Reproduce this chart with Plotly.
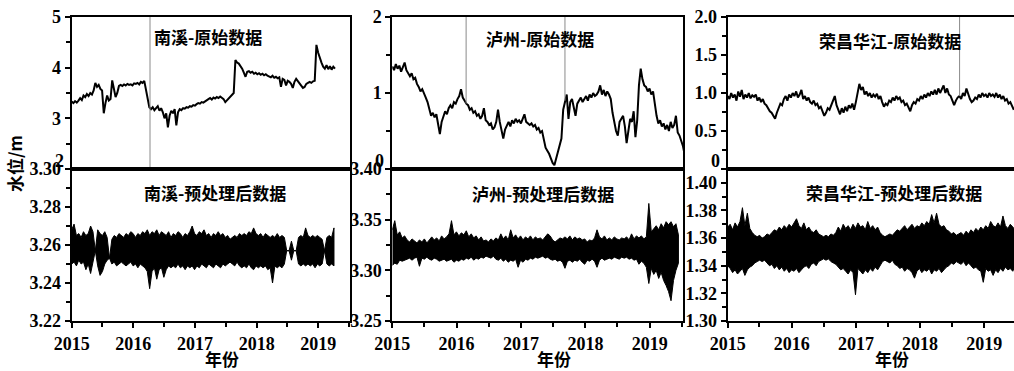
import plotly.graph_objects as go
import pandas as pd

# ---------------- data ----------------
year_labels = ["2015", "2016", "2017", "2018", "2019"]
year_dates = ["2015-01-01", "2016-01-01", "2017-01-01", "2018-01-01", "2019-01-01"]

raw_start = "2015-01-01"
raw_step = "10D"
proc_step = "14D"

# 南溪 原始数据 (m), every 10 days
nx_raw = [3.33, 3.30, 3.34, 3.31, 3.35,
          3.40, 3.36, 3.45, 3.42, 3.48, 3.44, 3.50, 3.47, 3.55,
          3.70, 3.62, 3.66, 3.58, 3.55,
          3.10, 3.30, 3.45, 3.35, 3.38,
          3.75, 3.60, 3.42, 3.50, 3.64,
          3.66, 3.64, 3.67, 3.65, 3.68, 3.66, 3.67, 3.65, 3.69, 3.68, 3.70, 3.67, 3.72, 3.70, 3.74,
          3.55, 3.35, 3.22,
          3.18, 3.22, 3.16, 3.20, 3.24, 3.15, 3.20, 3.12,
          3.00, 3.10, 2.82, 3.05, 3.15, 3.10, 3.18, 2.86, 3.12, 3.18,
          3.16, 3.20, 3.19, 3.22, 3.21, 3.24, 3.23, 3.26, 3.25,
          3.28, 3.30, 3.29, 3.32, 3.31, 3.34, 3.36,
          3.38, 3.40, 3.37, 3.41, 3.39, 3.42, 3.40, 3.43, 3.41,
          3.38, 3.32, 3.36, 3.40, 3.44, 3.47, 3.50,
          4.15, 4.10, 4.08, 4.03, 3.98, 3.90, 3.82, 3.92,
          3.93, 3.90, 3.92, 3.88, 3.90, 3.87, 3.89, 3.86, 3.88, 3.85, 3.87, 3.84,
          3.83, 3.81, 3.84, 3.80, 3.82, 3.79, 3.81,
          3.62, 3.78, 3.76, 3.65, 3.74, 3.72, 3.68, 3.60, 3.72, 3.78, 3.74, 3.70, 3.66, 3.60,
          3.62, 3.68, 3.70, 3.72, 3.70, 3.73, 3.74,
          4.45, 4.30, 4.18, 4.10, 4.02, 3.98, 4.05, 3.97, 4.03, 3.96, 4.02, 3.98]

# 泸州 原始数据 (m), every 10 days
lz_raw = [1.35, 1.30, 1.38, 1.32, 1.36, 1.28, 1.34, 1.40, 1.30, 1.25,
          1.22, 1.26, 1.18, 1.20, 1.12, 1.08, 1.02, 1.05, 0.98, 0.94,
          0.88, 0.80, 0.70, 0.74, 0.68, 0.72, 0.60, 0.46, 0.62, 0.70,
          0.76, 0.72, 0.80, 0.84, 0.80, 0.88, 0.86, 0.92, 0.96, 1.05,
          0.94, 0.90, 0.86, 0.84, 0.78, 0.80, 0.74, 0.76, 0.70, 0.72,
          0.66, 0.70, 0.80, 0.64, 0.62, 0.58, 0.60, 0.52, 0.55, 0.62,
          0.78, 0.62, 0.50, 0.40, 0.52, 0.58, 0.62, 0.56, 0.64, 0.60,
          0.66, 0.62, 0.64, 0.60, 0.66, 0.72, 0.62, 0.60, 0.58, 0.60,
          0.56, 0.58, 0.52, 0.54, 0.48, 0.50, 0.36, 0.28, 0.24, 0.20,
          0.14, 0.08, 0.05, 0.14, 0.22, 0.32, 0.40, 0.78, 0.90, 0.98,
          0.66, 0.88, 0.92, 0.82, 0.70, 0.86, 0.90, 0.94, 0.88, 0.92,
          0.96, 0.90, 0.98, 0.94, 1.00, 0.96, 0.98, 1.02, 1.10, 0.98,
          1.04, 0.96, 1.02, 0.98, 0.92, 0.74, 0.62, 0.50, 0.44, 0.62,
          0.66, 0.70, 0.56, 0.34, 0.50, 0.66, 0.62, 0.76, 0.42, 0.64,
          1.10, 1.32, 1.18, 1.10, 1.08, 1.02, 1.06, 0.98, 1.02, 0.82,
          0.70, 0.60, 0.64, 0.56, 0.60, 0.52, 0.58, 0.50, 0.62, 0.54,
          0.58, 0.70, 0.48, 0.44, 0.36, 0.30, 0.18]

# 荣昌华江 原始数据 (m), every 10 days
rc_raw = [0.96, 0.92, 1.00, 0.94, 0.98, 0.90, 1.02, 0.95, 1.04, 0.92,
          0.98, 0.94, 1.00, 0.93, 0.97, 0.95, 0.98, 0.90, 0.94, 0.88,
          0.92, 0.86, 0.84, 0.80, 0.76, 0.74, 0.70, 0.66, 0.74, 0.80,
          0.86, 0.84, 0.92, 0.96, 0.90, 0.98, 0.94, 1.00, 0.96, 1.02,
          0.94, 0.98, 1.04, 0.92, 0.96, 0.90, 0.94, 0.88, 0.86, 0.90,
          0.84, 0.86, 0.80, 0.82, 0.76, 0.70, 0.74, 0.80, 0.78, 0.84,
          0.90, 0.96, 0.84, 0.78, 0.72, 0.80, 0.74, 0.82, 0.76, 0.84,
          0.80, 0.86, 0.78, 0.88, 1.00, 1.12, 1.04, 1.08, 0.98, 1.02,
          0.96, 1.00, 0.94, 0.98, 0.95, 0.99, 0.92, 0.96, 0.88, 0.82,
          0.86, 0.84, 0.90, 0.88, 0.94, 0.90, 0.96, 0.92, 0.94, 0.88,
          0.90, 0.84, 0.86, 0.80, 0.76, 0.84, 0.88, 0.86, 0.92, 0.90,
          0.96, 0.92, 0.98, 0.94, 1.00, 0.96, 1.02, 0.98, 1.04, 0.98,
          1.06, 1.00, 1.04, 1.10, 1.00, 1.06, 0.98, 0.96, 0.90, 0.84,
          0.90, 0.94, 0.96, 0.92, 1.00, 0.96, 1.06, 0.98, 0.92, 0.88,
          0.90, 0.94, 0.92, 0.98, 0.94, 1.00, 0.96, 0.98, 0.94, 1.00,
          0.96, 0.98, 0.95, 1.00, 0.94, 0.98, 0.92, 0.96, 0.90, 0.92,
          0.86, 0.88, 0.82, 0.78]

# isolated outliers in the raw records (date, low, high)
nx_spike_dates = ["2016-04-09", "2016-04-09"]
nx_spike_vals = [1.5, 5.5]
lz_spike1_dates = ["2016-02-24", "2016-02-24"]
lz_spike1_vals = [0.86, 2.2]
lz_spike2_dates = ["2017-09-07", "2017-09-07"]
lz_spike2_vals = [0.90, 2.2]
rc_spike_dates = ["2018-08-14", "2018-08-14"]
rc_spike_vals = [0.96, 2.2]

# 预处理后数据: upper / lower envelope every 14 days
nx_hi = [3.268, 3.271, 3.265, 3.266, 3.264, 3.267, 3.265, 3.266, 3.270, 3.267,
         3.257, 3.268, 3.266, 3.265, 3.267, 3.264, 3.253, 3.263, 3.265, 3.264,
         3.266, 3.265, 3.264, 3.266, 3.265, 3.267, 3.266, 3.264, 3.266, 3.265,
         3.267, 3.266, 3.268, 3.265, 3.267, 3.266, 3.268, 3.265, 3.267, 3.266,
         3.265, 3.267, 3.264, 3.266, 3.265, 3.267, 3.266, 3.264, 3.266, 3.265,
         3.267, 3.270, 3.266, 3.265, 3.267, 3.266, 3.268, 3.265, 3.266, 3.264,
         3.266, 3.265, 3.267, 3.265, 3.266, 3.264, 3.265, 3.263, 3.264, 3.265,
         3.264, 3.266, 3.265, 3.266, 3.265, 3.267, 3.266, 3.269, 3.266, 3.265,
         3.266, 3.264, 3.266, 3.265, 3.264, 3.265, 3.264, 3.266, 3.264, 3.265,
         3.264, 3.257, 3.257, 3.262, 3.257, 3.257, 3.264, 3.265, 3.264, 3.269,
         3.265, 3.264, 3.265, 3.264, 3.265, 3.264, 3.263, 3.257, 3.264, 3.265,
         3.264, 3.269]
nx_lo = [3.250, 3.251, 3.249, 3.252, 3.250, 3.251, 3.247, 3.250, 3.245, 3.250,
         3.257, 3.249, 3.244, 3.246, 3.250, 3.252, 3.253, 3.250, 3.251, 3.249,
         3.250, 3.251, 3.250, 3.249, 3.250, 3.251, 3.249, 3.250, 3.248, 3.250,
         3.249, 3.248, 3.246, 3.237, 3.246, 3.248, 3.242, 3.247, 3.248, 3.243,
         3.247, 3.249, 3.248, 3.249, 3.248, 3.250, 3.248, 3.249, 3.247, 3.249,
         3.248, 3.249, 3.247, 3.249, 3.248, 3.250, 3.249, 3.248, 3.250, 3.249,
         3.248, 3.250, 3.249, 3.248, 3.250, 3.249, 3.250, 3.251, 3.250, 3.249,
         3.251, 3.249, 3.248, 3.249, 3.248, 3.250, 3.248, 3.247, 3.249, 3.248,
         3.249, 3.248, 3.249, 3.247, 3.248, 3.240, 3.249, 3.248, 3.249, 3.248,
         3.250, 3.257, 3.257, 3.252, 3.257, 3.257, 3.250, 3.249, 3.250, 3.249,
         3.250, 3.249, 3.250, 3.248, 3.250, 3.249, 3.250, 3.257, 3.250, 3.249,
         3.250, 3.249]

lz_hi = [3.340, 3.349, 3.335, 3.338, 3.332, 3.334, 3.330, 3.328, 3.331, 3.329,
         3.327, 3.330, 3.328, 3.331, 3.327, 3.330, 3.333, 3.330, 3.332, 3.329,
         3.334, 3.331, 3.333, 3.336, 3.349, 3.335, 3.338, 3.334, 3.337, 3.335,
         3.339, 3.333, 3.336, 3.332, 3.334, 3.330, 3.333, 3.329, 3.330, 3.328,
         3.331, 3.329, 3.332, 3.330, 3.336, 3.331, 3.334, 3.330, 3.340, 3.332,
         3.335, 3.331, 3.334, 3.330, 3.333, 3.331, 3.334, 3.330, 3.333, 3.331,
         3.332, 3.330, 3.333, 3.336, 3.334, 3.330, 3.328, 3.330, 3.332, 3.331,
         3.333, 3.331, 3.334, 3.330, 3.333, 3.331, 3.332, 3.330, 3.331, 3.328,
         3.330, 3.329, 3.332, 3.340, 3.333, 3.331, 3.334, 3.330, 3.332, 3.330,
         3.333, 3.331, 3.330, 3.332, 3.331, 3.333, 3.330, 3.336, 3.331, 3.334,
         3.332, 3.334, 3.331, 3.333, 3.366, 3.338, 3.341, 3.344, 3.340, 3.346,
         3.342, 3.348, 3.345, 3.348, 3.343, 3.346, 3.335]
lz_lo = [3.305, 3.307, 3.306, 3.310, 3.309, 3.310, 3.311, 3.312, 3.310, 3.312,
         3.313, 3.304, 3.312, 3.311, 3.313, 3.311, 3.310, 3.312, 3.311, 3.309,
         3.310, 3.311, 3.309, 3.310, 3.311, 3.308, 3.310, 3.309, 3.311, 3.310,
         3.312, 3.311, 3.313, 3.310, 3.312, 3.311, 3.313, 3.312, 3.314, 3.313,
         3.312, 3.314, 3.311, 3.310, 3.312, 3.309, 3.311, 3.308, 3.310, 3.309,
         3.311, 3.303, 3.310, 3.308, 3.311, 3.310, 3.312, 3.311, 3.313, 3.312,
         3.313, 3.314, 3.312, 3.313, 3.311, 3.310, 3.311, 3.309, 3.310, 3.308,
         3.302, 3.309, 3.310, 3.308, 3.310, 3.309, 3.311, 3.308, 3.306, 3.310,
         3.309, 3.311, 3.309, 3.303, 3.310, 3.312, 3.310, 3.311, 3.312, 3.311,
         3.313, 3.312, 3.311, 3.313, 3.312, 3.313, 3.311, 3.312, 3.310, 3.311,
         3.306, 3.309, 3.307, 3.303, 3.287, 3.302, 3.296, 3.300, 3.292, 3.298,
         3.290, 3.285, 3.279, 3.270, 3.290, 3.300, 3.307]

rc_hi = [1.368, 1.370, 1.366, 1.371, 1.368, 1.372, 1.382, 1.369, 1.378, 1.367,
         1.364, 1.362, 1.361, 1.362, 1.360, 1.361, 1.363, 1.362, 1.364, 1.366,
         1.365, 1.368, 1.366, 1.369, 1.367, 1.370, 1.368, 1.371, 1.374, 1.369,
         1.367, 1.371, 1.366, 1.368, 1.365, 1.364, 1.366, 1.363, 1.362, 1.361,
         1.362, 1.361, 1.363, 1.362, 1.364, 1.368, 1.365, 1.370, 1.367, 1.369,
         1.366, 1.370, 1.367, 1.371, 1.368, 1.369, 1.366, 1.372, 1.367, 1.369,
         1.366, 1.368, 1.364, 1.362, 1.361, 1.362, 1.363, 1.362, 1.364, 1.366,
         1.365, 1.367, 1.369, 1.366, 1.368, 1.370, 1.367, 1.369, 1.368, 1.371,
         1.369, 1.372, 1.370, 1.377, 1.371, 1.378, 1.370, 1.368, 1.369, 1.366,
         1.365, 1.363, 1.364, 1.362, 1.363, 1.364, 1.362, 1.365, 1.363, 1.366,
         1.364, 1.367, 1.365, 1.368, 1.366, 1.369, 1.367, 1.372, 1.369, 1.368,
         1.371, 1.368, 1.376, 1.369, 1.367, 1.370, 1.368, 1.366]
rc_lo = [1.340, 1.338, 1.335, 1.337, 1.334, 1.336, 1.338, 1.333, 1.337, 1.339,
         1.340, 1.342, 1.343, 1.344, 1.343, 1.344, 1.342, 1.340, 1.341, 1.338,
         1.340, 1.337, 1.339, 1.336, 1.338, 1.335, 1.337, 1.336, 1.338, 1.335,
         1.337, 1.339, 1.340, 1.338, 1.341, 1.342, 1.340, 1.343, 1.344, 1.345,
         1.344, 1.345, 1.343, 1.342, 1.341, 1.339, 1.337, 1.338, 1.336, 1.334,
         1.337, 1.335, 1.319, 1.338, 1.336, 1.334, 1.337, 1.335, 1.338, 1.336,
         1.339, 1.337, 1.340, 1.343, 1.344, 1.343, 1.342, 1.344, 1.341, 1.340,
         1.338, 1.339, 1.336, 1.338, 1.337, 1.335, 1.331, 1.336, 1.338, 1.335,
         1.337, 1.336, 1.338, 1.334, 1.337, 1.336, 1.338, 1.335, 1.337, 1.339,
         1.340, 1.342, 1.341, 1.343, 1.342, 1.341, 1.343, 1.340, 1.342, 1.340,
         1.338, 1.339, 1.337, 1.336, 1.328, 1.338, 1.336, 1.337, 1.333, 1.337,
         1.335, 1.338, 1.336, 1.339, 1.337, 1.338, 1.336, 1.340]

# axis ranges and tick labels
nx_top_ticks = [2, 3, 4, 5]
nx_top_text = ["2", "3", "4", "5"]
lz_top_ticks = [0, 1, 2]
lz_top_text = ["0", "1", "2"]
rc_top_ticks = [0, 0.5, 1.0, 1.5, 2.0]
rc_top_text = ["0", "0.5", "1.0", "1.5", "2.0"]
nx_bot_ticks = [3.22, 3.24, 3.26, 3.28, 3.30]
nx_bot_text = ["3.22", "3.24", "3.26", "3.28", "3.30"]
lz_bot_ticks = [3.25, 3.30, 3.35, 3.40]
lz_bot_text = ["3.25", "3.30", "3.35", "3.40"]
rc_bot_ticks = [1.30, 1.32, 1.34, 1.36, 1.38, 1.40]
rc_bot_text = ["1.30", "1.32", "1.34", "1.36", "1.38", "1.40"]

# ---------------- figure ----------------
W, H = 1014, 371


def px_x(p):
    return p / W


def px_y(p):
    return 1 - p / H


def band(hi, lo):
    d = list(pd.date_range(raw_start, periods=len(hi), freq=proc_step))
    return d + d[::-1], list(hi) + list(lo)[::-1]


fig = go.Figure()
black = "#000000"
grey = "#8a8a8a"

raw_sets = [(nx_raw, "x", "y"), (lz_raw, "x2", "y2"), (rc_raw, "x3", "y3")]
for vals, xa, ya in raw_sets:
    d = pd.date_range(raw_start, periods=len(vals), freq=raw_step)
    fig.add_trace(go.Scatter(x=d, y=vals, mode="lines", xaxis=xa, yaxis=ya,
                             line=dict(color=black, width=2), showlegend=False,
                             hoverinfo="skip"))

spikes = [(nx_spike_dates, nx_spike_vals, "x", "y"),
          (lz_spike1_dates, lz_spike1_vals, "x2", "y2"),
          (lz_spike2_dates, lz_spike2_vals, "x2", "y2"),
          (rc_spike_dates, rc_spike_vals, "x3", "y3")]
for dd, vv, xa, ya in spikes:
    fig.add_trace(go.Scatter(x=dd, y=vv, mode="lines", xaxis=xa, yaxis=ya,
                             line=dict(color=grey, width=1), showlegend=False,
                             hoverinfo="skip"))

proc_sets = [(nx_hi, nx_lo, "x4", "y4"), (lz_hi, lz_lo, "x5", "y5"), (rc_hi, rc_lo, "x6", "y6")]
for hi, lo, xa, ya in proc_sets:
    xs, ys = band(hi, lo)
    fig.add_trace(go.Scatter(x=xs, y=ys, mode="lines", xaxis=xa, yaxis=ya,
                             fill="toself", fillcolor=black,
                             line=dict(color=black, width=1), showlegend=False,
                             hoverinfo="skip"))

tickfont = dict(family="Liberation Serif", size=18, color=black)
cjk = "Noto Sans CJK SC"


def bold(lst):
    return [f"<b>{s}</b>" for s in lst]


col_px = [(71.7, 350.0, "2019-07-08", True), (392.3, 683.0, "2019-07-09", True),
          (727.7, 1014.0, "2019-06-20", False)]
top_row = (17, 169)
bot_row = (169, 321)

y_specs_top = [([2, 5], nx_top_ticks, nx_top_text, 0.5),
               ([0, 2], lz_top_ticks, lz_top_text, 0.5),
               ([0, 2], rc_top_ticks, rc_top_text, 0.25)]
y_specs_bot = [([3.22, 3.30], nx_bot_ticks, nx_bot_text, 0.01),
               ([3.25, 3.40], lz_bot_ticks, lz_bot_text, 0.025),
               ([1.30, 1.41], rc_bot_ticks, rc_bot_text, 0.01)]

layout = {}
ann = []
for c, (x0, x1, xend, mirror_y) in enumerate(col_px):
    for r, (row, yspecs) in enumerate([(top_row, y_specs_top), (bot_row, y_specs_bot)]):
        k = c + 1 + 3 * r
        xname = "xaxis" if k == 1 else f"xaxis{k}"
        yname = "yaxis" if k == 1 else f"yaxis{k}"
        ykey = "y" if k == 1 else f"y{k}"
        xkey = "x" if k == 1 else f"x{k}"
        is_bottom = (r == 1)
        layout[xname] = dict(
            type="date", domain=[px_x(x0), px_x(x1)], anchor=ykey, automargin=False,
            range=["2015-01-01", xend], showgrid=False, zeroline=False,
            showline=True, linecolor=black, linewidth=2, mirror=True,
            tickvals=year_dates, ticktext=bold(year_labels),
            ticks="outside" if is_bottom else "", ticklen=5, tickwidth=1.5, tickcolor=black,
            showticklabels=is_bottom, tickfont=tickfont,
            minor=dict(dtick="M6", tick0="2015-01-01", ticks="outside" if is_bottom else "",
                       ticklen=4, tickwidth=1.5, tickcolor=black),
        )
        yr, tv, tt, mdt = yspecs[c]
        labels = bold(tt)
        if not is_bottom:
            # lowest label of the upper panels sits slightly raised above the shared edge
            ann.append(dict(text=labels[0], x=px_x(x0 - 6), y=px_y(row[1] - 8),
                            xref="paper", yref="paper", xanchor="right", yanchor="middle",
                            showarrow=False, font=tickfont))
            labels = [""] + labels[1:]
        layout[yname] = dict(
            domain=[px_y(row[1]), px_y(row[0])], anchor=xkey, automargin=False,
            range=yr, showgrid=False, zeroline=False,
            showline=True, linecolor=black, linewidth=2, mirror=mirror_y,
            tickvals=tv, ticktext=labels, ticks="outside", ticklen=5, tickwidth=1.5,
            tickcolor=black, tickfont=tickfont,
            minor=dict(dtick=mdt, tick0=yr[0], ticks="outside", ticklen=4,
                       tickwidth=1.5, tickcolor=black),
        )

titles = [("南溪-原始数据", 208, 37), ("南溪-预处理后数据", 215, 192),
          ("泸州-原始数据", 540, 38), ("泸州-预处理后数据", 543, 193),
          ("荣昌华江-原始数据", 890, 40), ("荣昌华江-预处理后数据", 894, 192)]
for txt, xp, yp in titles:
    ann.append(dict(text=f"<b>{txt}</b>", x=px_x(xp), y=px_y(yp), xref="paper", yref="paper",
                    xanchor="center", yanchor="middle", showarrow=False,
                    font=dict(family=cjk, size=17, color=black)))
for xp in [222, 554, 892]:
    ann.append(dict(text="<b>年份</b>", x=px_x(xp), y=px_y(358), xref="paper", yref="paper",
                    xanchor="center", yanchor="middle", showarrow=False,
                    font=dict(family=cjk, size=17, color=black)))
ann.append(dict(text="<b>水位/m</b>", x=px_x(15), y=px_y(164), xref="paper", yref="paper",
                xanchor="center", yanchor="middle", showarrow=False, textangle=-90,
                font=dict(family=cjk, size=17, color=black)))

fig.update_layout(width=W, height=H, margin=dict(l=0, r=0, t=0, b=0, pad=0),
                  autosize=False,
                  paper_bgcolor="white", plot_bgcolor="white",
                  annotations=ann, showlegend=False, **layout)

page_fix = ("document.body.style.margin='0';document.body.style.padding='0';"
            "document.body.style.overflow='hidden';"
            "document.documentElement.style.overflow='hidden';")
fig.write_html("out.html", config={"displayModeBar": False}, post_script=page_fix)
